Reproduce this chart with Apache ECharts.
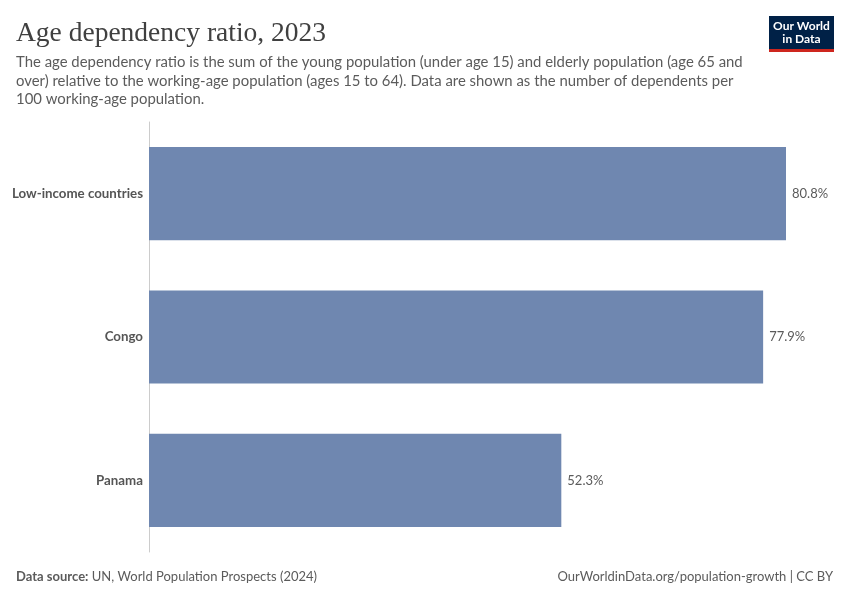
<!DOCTYPE html>
<html>
<head>
<meta charset="utf-8">
<script src="https://cdn.jsdelivr.net/npm/echarts@6/dist/echarts.min.js"></script>
<style>html,body{margin:0;padding:0;background:#fff}#c{width:850px;height:600px}</style>
</head>
<body>
<div id="c"></div>
<script>
const categories = ["Low-income countries", "Congo", "Panama"];
const values = [80.8, 77.9, 52.3];

const chart = echarts.init(document.getElementById('c'));
const sans = 'Lato, "Open Sans", "Noto Sans", sans-serif';
chart.setOption({
  animation: false,
  backgroundColor: '#fff',
  title: [
    { text: 'Age dependency ratio, 2023', left: 16, top: 20, padding: 0,
      textStyle: { fontFamily: '"Liberation Serif", "DejaVu Serif", serif', fontSize: 27.5, fontWeight: 'normal', color: '#404040' } },
    { text: 'The age dependency ratio is the sum of the young population (under age 15) and elderly population (age 65 and\nover) relative to the working-age population (ages 15 to 64). Data are shown as the number of dependents per\n100 working-age population.',
      left: 16, top: 53, padding: 0,
      textStyle: { fontFamily: sans, fontSize: 14.9, fontWeight: 'normal', color: '#5b5b5b', lineHeight: 18.5 } },
    { text: '{b|Data source:} {n|UN, World Population Prospects (2024)}', left: 16, top: 570, padding: 0,
      textStyle: { fontFamily: sans, fontSize: 13, fontWeight: 'normal', color: '#5b5b5b',
        rich: { b: { fontFamily: sans, fontSize: 13, fontWeight: 'bold', color: '#5b5b5b' },
                n: { fontFamily: sans, fontSize: 13, fontWeight: 'normal', color: '#5b5b5b' } } } },
    { text: 'OurWorldinData.org/population-growth | CC BY', right: 17, top: 570, padding: 0,
      textStyle: { fontFamily: sans, fontSize: 13, fontWeight: 'normal', color: '#5b5b5b' } }
  ],
  graphic: [
    { type: 'rect', shape: { x: 769, y: 16, width: 65, height: 33 }, style: { fill: '#002147' } },
    { type: 'rect', shape: { x: 769, y: 49, width: 65, height: 3 }, style: { fill: '#ce261e' } },
    { type: 'text', x: 801.5, y: 20, style: { text: 'Our World\nin Data', fill: '#fff', font: 'bold 12px Lato, sans-serif', align: 'center', lineHeight: 13 } }
  ],
  grid: { left: 149, top: 122, width: 637, height: 430, containLabel: false },
  xAxis: { type: 'value', min: 0, max: 80.8, show: false },
  yAxis: {
    type: 'category', data: categories, inverse: true,
    axisLine: { show: true, lineStyle: { color: '#cccccc', width: 1 } },
    axisTick: { show: false },
    axisLabel: { fontFamily: sans, fontSize: 13.3, fontWeight: 'bold', color: '#555', margin: 6 }
  },
  series: [{
    type: 'bar', data: values, barCategoryGap: '35%',
    itemStyle: { color: '#6f87b0' },
    label: { show: true, position: 'right', distance: 6, formatter: p => p.value + '%',
      fontFamily: sans, fontSize: 13, color: '#5b5b5b' }
  }]
});
</script>
</body>
</html>
